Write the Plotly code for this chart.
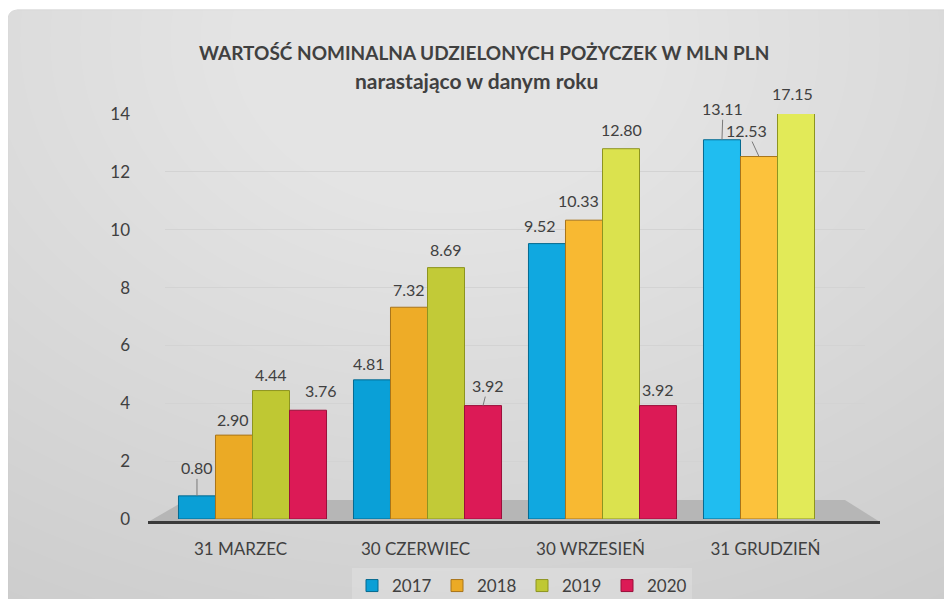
import plotly.graph_objects as go

# ---------------- data ----------------
categories = ["31 MARZEC", "30 CZERWIEC", "30 WRZESIEŃ", "31 GRUDZIEŃ"]
series_names = ["2017", "2018", "2019", "2020"]
v2017 = [0.80, 4.81, 9.52, 13.11]
v2018 = [2.90, 7.32, 10.33, 12.53]
v2019 = [4.44, 8.69, 12.80, 17.15]
v2020 = [3.76, 3.92, 3.92, None]
y_tick_values = [0, 2, 4, 6, 8, 10, 12, 14]
title_line1 = "WARTOŚĆ NOMINALNA UDZIELONYCH POŻYCZEK W MLN PLN"
title_line2 = "narastająco w danym roku"

series_values = [v2017, v2018, v2019, v2020]

# ---------------- styles ----------------
FONT = "Lato"
TXT = "#404040"
bar_colors = [
    ["#0a9fd6", "#0aa0d7", "#10a8e0", "#20bdf0"],
    ["#ebaa25", "#eeac27", "#f8b932", "#fcc23c"],
    ["#bfc833", "#c2ca37", "#dbe24e", "#e2ea58"],
    ["#dc1a56", "#dc1a56", "#dc1a56", "#dc1a56"],
]
edge_colors = ["#05698f", "#a8741a", "#8d9420", "#9a0f3a"]
YMAX = 14
BARGAP = 0.154
W_GROUP = (1 - BARGAP) / 4

# label offsets (px, text centre relative to bar top centre) and leader-line flag
label_style = {
    (0, 0): (0, -28, True), (1, 0): (-1, -16, False), (2, 0): (0, -16, False), (3, 0): (13, -20, False),
    (0, 1): (-3, -16, False), (1, 1): (0, -18, False), (2, 1): (0, -18, False), (3, 1): (5, -20, True),
    (0, 2): (-7, -18, False), (1, 2): (-5, -20, False), (2, 2): (0, -19, False), (3, 2): (0, -16, False),
    (0, 3): (1, -31, True), (1, 3): (-12, -26, True), (2, 3): (-4, -21, False),
}

# geometry: targets are given in screen pixels; page body adds an 8px offset
W_FIG, H_FIG = 952, 599
OFF = 8
PL, PR, PT, PB = 165, 865, 114, 519          # plot area on screen
L, R = PL - OFF, W_FIG - (PR - OFF)
T, B = PT - OFF, H_FIG - (PB - OFF)
PW = W_FIG - L - R
PH = H_FIG - T - B


def px_x(px):
    return (px - PL) / PW


def px_y(py):
    return (PB - py) / PH


fig = go.Figure()

for i, (name, vals) in enumerate(zip(series_names, series_values)):
    fig.add_trace(go.Bar(
        x=list(range(len(categories))),
        y=vals,
        name=name,
        marker=dict(color=bar_colors[i], line=dict(color=edge_colors[i], width=1)),
        hoverinfo="skip",
    ))

annotations = []
for i, vals in enumerate(series_values):
    for j, v in enumerate(vals):
        if v is None:
            continue
        dx, dy, arrow = label_style[(i, j)]
        xpos = j + (i - 1.5) * W_GROUP
        ypos = min(v, YMAX)
        if arrow:
            annotations.append(dict(
                x=xpos, y=ypos, xref="x", yref="y", text=f"{v:.2f}",
                showarrow=True, arrowhead=0, arrowwidth=1, arrowcolor="#7a7a7a",
                ax=dx, ay=dy, standoff=0,
                font=dict(family=FONT, size=16, color=TXT),
            ))
        else:
            annotations.append(dict(
                x=xpos, y=ypos, xref="x", yref="y", text=f"{v:.2f}",
                showarrow=False, xanchor="center", yanchor="middle",
                xshift=dx, yshift=-dy,
                font=dict(family=FONT, size=16, color=TXT),
            ))

# title lines
annotations.append(dict(
    x=px_x(484), y=px_y(52), xref="paper", yref="paper", text=f"<b>{title_line1}</b>",
    showarrow=False, xanchor="center", yanchor="middle",
    font=dict(family=FONT, size=19, color=TXT),
))
annotations.append(dict(
    x=px_x(476), y=px_y(80), xref="paper", yref="paper", text=f"<b>{title_line2}</b>",
    showarrow=False, xanchor="center", yanchor="middle",
    font=dict(family=FONT, size=21, color=TXT),
))

shapes = []
# background rounded panel
x0, y0, x1, y1, r = px_x(8), px_y(10), px_x(980), px_y(640), 10
rx = r / PW
ry = r / PH
shapes.append(dict(
    type="path", xref="paper", yref="paper", layer="below",
    path=(f"M {x0},{y1} L {x0},{y0 - ry} Q {x0},{y0} {x0 + rx},{y0} "
          f"L {x1},{y0} L {x1},{y1} Z"),
    fillcolor="#c9c9c9", line=dict(color="#c4c4c4", width=1),
))
# soft radial light (stacked translucent ellipses)
cx, cy = 450, 40
N = 30
for k in range(N):
    sx = 1000 - k * 30
    sy = 720 - k * 21
    shapes.append(dict(
        type="circle", xref="paper", yref="paper", layer="below",
        x0=px_x(cx - sx), x1=px_x(cx + sx), y0=px_y(cy + sy), y1=px_y(cy - sy),
        fillcolor="rgba(255,255,255,0.035)", line=dict(width=0),
    ))
# floor
shapes.append(dict(
    type="path", xref="paper", yref="paper", layer="below",
    path=(f"M {px_x(148)},{px_y(522)} L {px_x(186)},{px_y(500)} L {px_x(845)},{px_y(500)} "
          f"L {px_x(880)},{px_y(522)} Z"),
    fillcolor="#b6b6b6", line=dict(width=0),
))
shapes.append(dict(
    type="line", xref="paper", yref="paper", layer="above",
    x0=px_x(148), x1=px_x(880), y0=px_y(522.5), y1=px_y(522.5),
    line=dict(color="#3a3a3a", width=3),
))

fig.update_layout(
    width=W_FIG, height=H_FIG,
    margin=dict(l=L, r=R, t=T, b=B, pad=0, autoexpand=False),
    paper_bgcolor="white",
    plot_bgcolor="rgba(0,0,0,0)",
    barmode="group", bargap=BARGAP, bargroupgap=0,
    font=dict(family=FONT, color=TXT),
    showlegend=True,
    legend=dict(
        orientation="h", xref="paper", x=px_x(522),
        yref="container", y=1 - (586 - OFF) / H_FIG,
        xanchor="center", yanchor="middle",
        font=dict(family=FONT, size=17, color=TXT),
        bgcolor="rgba(255,255,255,0.18)", itemwidth=30,
        entrywidth=40, entrywidthmode="pixels",
    ),
    annotations=annotations,
    shapes=shapes,
)
fig.update_xaxes(
    range=[-0.5, 3.5], tickmode="array", tickvals=list(range(len(categories))), ticktext=categories,
    showgrid=False, zeroline=False, showline=False, ticks="",
    tickfont=dict(family=FONT, size=17, color=TXT),
    ticklabelstandoff=18, ticklabelshift=-12, automargin=False,
)
fig.update_yaxes(
    range=[0, YMAX], tickmode="array", tickvals=y_tick_values,
    showgrid=True, gridcolor="#d3d3d3", gridwidth=1, zeroline=False, showline=False, ticks="",
    tickfont=dict(family=FONT, size=17, color=TXT),
    ticklabelstandoff=34, automargin=False,
)

fig.write_html("out.html")
